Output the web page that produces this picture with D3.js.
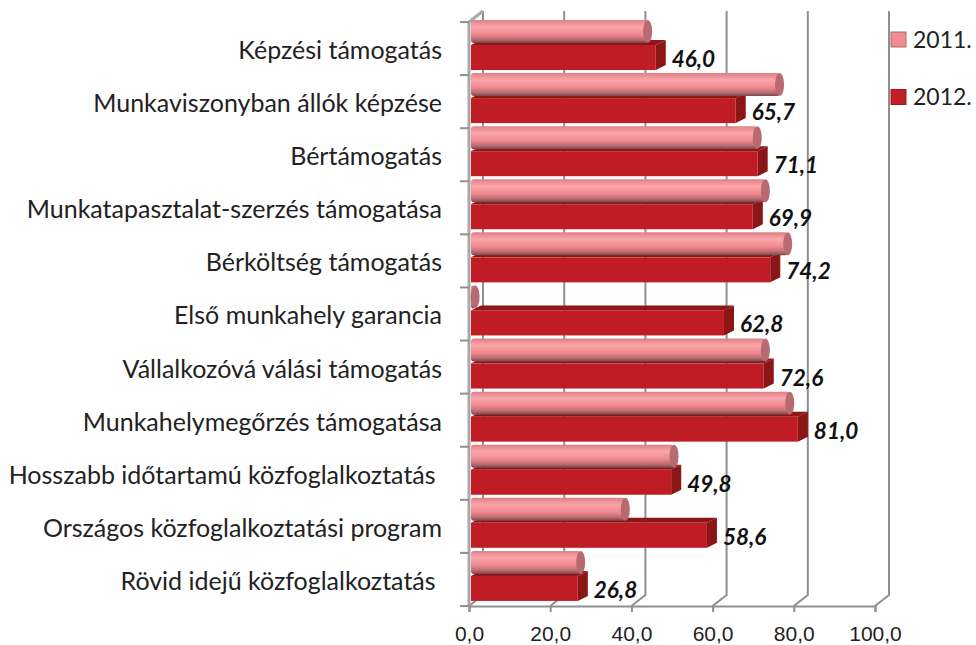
<!DOCTYPE html>
<html>
<head>
<meta charset="utf-8">
<script src="https://cdnjs.cloudflare.com/ajax/libs/d3/7.8.5/d3.min.js"></script>
<style>
    html, body { margin: 0; padding: 0; background: #fff; }
    svg { display: block; font-family: Lato, sans-serif; }
    .cat { font-size: 25px; fill: #222; white-space: pre; }
    .tick-label { font-size: 21px; fill: #222; }
    .val { font-size: 22.5px; font-weight: bold; font-style: italic; fill: #111; }
    .legend-label { font-size: 23px; fill: #222; }
</style>
</head>
<body>
<div id="container"></div>
<script>
// Values
var categories = [
    "Képzési támogatás",
    "Munkaviszonyban állók képzése",
    "Bértámogatás",
    "Munkatapasztalat-szerzés támogatása",
    "Bérköltség támogatás",
    "Első munkahely garancia",
    "Vállalkozóvá válási támogatás",
    "Munkahelymegőrzés támogatása",
    "Hosszabb időtartamú közfoglalkoztatás ",
    "Országos közfoglalkoztatási program",
    "Rövid idejű közfoglalkoztatás "
];
var values2011 = [44, 76.5, 71, 73, 78.5, 1.5, 73, 79, 50.5, 38.5, 27.5];
var values2012 = [46.0, 65.7, 71.1, 69.9, 74.2, 62.8, 72.6, 81.0, 49.8, 58.6, 26.8];
var xTicks = [0, 20, 40, 60, 80, 100];
var legendYears = ["2011.", "2012."];

var w = 976, h = 645;
var x0 = 469, x1 = 875, yTop = 22, yBottom = 606;
var depthX = 14, depthY = 11;  // offset of the back wall

var comma = d3.formatLocale({decimal: ",", thousands: " ", grouping: [3], currency: ["", ""]}).format(".1f");

var x = d3.scaleLinear().domain([0, 100]).range([x0, x1]);
var y = d3.scaleBand().domain(categories).range([yTop, yBottom]);

var svg = d3.select("#container").append("svg")
    .attr("width", w)
    .attr("height", h);

var defs = svg.append("defs");
var grad = defs.append("linearGradient")
    .attr("id", "pink")
    .attr("x1", 0).attr("x2", 0).attr("y1", 0).attr("y2", 1);
[[0, "#e07f85"], [0.3, "#f9a6ab"], [0.62, "#f0898f"], [0.85, "#bd6a70"], [1, "#6e4a4b"]].forEach(function(s) {
    grad.append("stop").attr("offset", s[0]).attr("stop-color", s[1]);
});
defs.append("filter").attr("id", "soft")
    .append("feGaussianBlur").attr("stdDeviation", 0.5);

var gridColor = "#8f8f8f";

// Back wall: vertical lines and the diagonal down to the floor
var grid = svg.append("g").attr("fill", "none").attr("stroke", gridColor).attr("stroke-width", 2);
grid.selectAll("path")
    .data(xTicks)
    .enter()
    .append("path")
    .attr("d", function(d) {
        return "M" + (x(d) + depthX) + "," + (yTop - depthY)
            + "V" + (yBottom - depthY)
            + "L" + x(d) + "," + yBottom;
    });

// Left wall
grid.append("path")
    .attr("stroke", "#a8a8a8")
    .attr("stroke-width", 3)
    .attr("d", "M" + (x0 + depthX) + "," + (yTop - depthY) + "L" + x0 + "," + yTop + "V" + yBottom);

// Axes
var xAxis = svg.append("g")
    .attr("transform", "translate(0," + yBottom + ")")
    .call(d3.axisBottom(x).tickValues(xTicks).tickSize(6).tickPadding(14).tickFormat(comma));
xAxis.select(".domain").attr("stroke", gridColor).attr("stroke-width", 2);
xAxis.selectAll("line").attr("stroke", gridColor).attr("stroke-width", 2);
xAxis.selectAll("text").attr("class", "tick-label").attr("font-family", null).attr("font-size", null);

var catTicks = svg.append("g");
catTicks.selectAll("line")
    .data(d3.range(categories.length + 1))
    .enter()
    .append("line")
    .attr("x1", x0 - 9)
    .attr("x2", x0)
    .attr("y1", function(i) { return yTop + i * y.step(); })
    .attr("y2", function(i) { return yTop + i * y.step(); })
    .attr("stroke", gridColor)
    .attr("stroke-width", 2);

svg.selectAll("text.cat")
    .data(categories)
    .enter()
    .append("text")
    .attr("class", "cat")
    .attr("x", 442)
    .attr("y", function(d) { return y(d) + 37; })
    .attr("text-anchor", "end")
    .text(function(d) { return d; });

// Bars
var marks = svg.append("g").attr("filter", "url(#soft)");
var barLeft = x0 + 2, redTop = 23, redH = 25, skewX = 10, skewY = 5;

var red = marks.selectAll("g.red")
    .data(categories)
    .enter()
    .append("g")
    .attr("class", "red");
red.append("path")  // top face
    .attr("fill", "#8e1418")
    .attr("d", function(d, i) {
        var e = x(values2012[i]), t = y(d) + redTop;
        return "M" + barLeft + "," + t + "L" + (barLeft + skewX) + "," + (t - skewY)
            + "H" + (e + skewX) + "L" + e + "," + t + "Z";
    });
red.append("path")  // side face
    .attr("fill", "#8a1216")
    .attr("d", function(d, i) {
        var e = x(values2012[i]), t = y(d) + redTop;
        return "M" + e + "," + t + "L" + (e + skewX) + "," + (t - skewY)
            + "V" + (t + redH - skewY) + "L" + e + "," + (t + redH) + "Z";
    });
red.append("rect")
    .attr("fill", "#c01f25")
    .attr("x", barLeft)
    .attr("y", function(d) { return y(d) + redTop; })
    .attr("width", function(d, i) { return x(values2012[i]) - barLeft; })
    .attr("height", redH);

var pinkTop = -2, pinkH = 23, capR = 4.5;
var pink = marks.selectAll("g.pink")
    .data(categories)
    .enter()
    .append("g")
    .attr("class", "pink");
pink.append("rect")
    .attr("fill", "url(#pink)")
    .attr("x", barLeft)
    .attr("y", function(d) { return y(d) + pinkTop; })
    .attr("rx", 3)
    .attr("width", function(d, i) { return Math.max(0, x(values2011[i]) - barLeft); })
    .attr("height", pinkH);
pink.append("ellipse")
    .attr("fill", "#b96a70")
    .attr("cx", function(d, i) { return x(values2011[i]); })
    .attr("cy", function(d) { return y(d) + pinkTop + pinkH / 2; })
    .attr("rx", capR)
    .attr("ry", pinkH / 2);

// Value labels for 2012
svg.selectAll("text.val")
    .data(categories)
    .enter()
    .append("text")
    .attr("class", "val")
    .attr("x", function(d, i) { return x(values2012[i]) + skewX + 6; })
    .attr("y", function(d) { return y(d) + 45; })
    .text(function(d, i) { return comma(values2012[i]); });

// Legend
var legendColor = d3.scaleOrdinal().domain(legendYears).range(["#ef8d93", "#c01f25"]);
var legendStroke = d3.scaleOrdinal().domain(legendYears).range(["#a56c70", "#a0181d"]);
var legendY = d3.scalePoint().domain(legendYears).range([39.5, 97]);
var legend = svg.selectAll("g.legend")
    .data(legendYears)
    .enter()
    .append("g")
    .attr("class", "legend")
    .attr("transform", function(d) { return "translate(0," + legendY(d) + ")"; });
legend.append("rect")
    .attr("x", 891).attr("y", -7.5)
    .attr("width", 15).attr("height", 15)
    .attr("fill", function(d) { return legendColor(d); })
    .attr("stroke", function(d) { return legendStroke(d); });
legend.append("text")
    .attr("class", "legend-label")
    .attr("x", 913)
    .attr("y", 8)
    .text(function(d) { return d; });
</script>
</body>
</html>
